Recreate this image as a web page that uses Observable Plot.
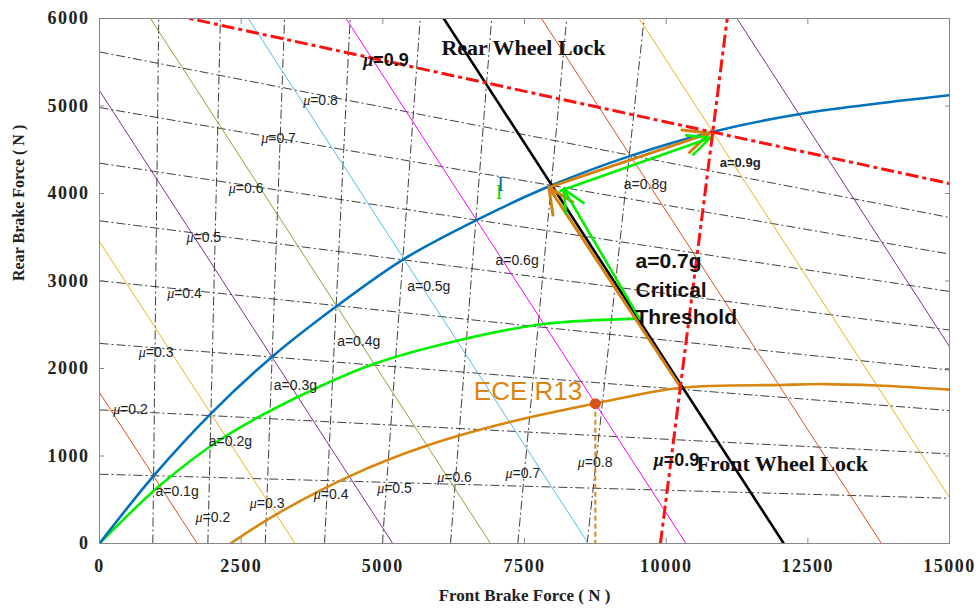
<!DOCTYPE html>
<html>
<head>
<meta charset="utf-8">
<script src="https://cdn.jsdelivr.net/npm/d3@7"></script>
<script src="https://cdn.jsdelivr.net/npm/@observablehq/plot@0.6"></script>
<style>
  body { margin: 0; background: #fff; }
  #chart svg { display: block; }
  #chart g[aria-label="x-axis tick label"] text,
  #chart g[aria-label="y-axis tick label"] text {
    font-family: "Liberation Serif", "Times New Roman", serif;
    font-weight: bold;
    font-size: 18px;
    letter-spacing: 1.5px;
    fill: #222;
  }
</style>
</head>
<body>
<div id="chart"></div>
<script>
// Axes
const xDomain = [0, 15000];
const yDomain = [0, 6000];
const xTicks = [0, 2500, 5000, 7500, 10000, 12500, 15000];
const yTicks = [0, 1000, 2000, 3000, 4000, 5000, 6000];

// Ideal brake force distribution curve (I curve)
const idealFront = [0, 958, 1971, 3047, 4194, 5370, 6652, 7958, 9370, 10812, 12340, 15000];
const idealRear  = [0, 776, 1488, 2135, 2717, 3251, 3696, 4088, 4430, 4704, 4906, 5123];

// Actual (green) distribution curve
const actualFront = [0, 1070, 2194, 3487, 4840, 6311, 7840, 9530];
const actualRear  = [0, 665, 1214, 1671, 2052, 2318, 2508, 2570];

// ECE R13 limit curve
const eceFront = [2312, 3106, 4400, 5782, 7222, 8750, 10260, 12017, 12800, 13723, 15000];
const eceRear  = [0, 328, 765, 1119, 1385, 1600, 1780, 1812, 1822, 1805, 1758];

// ECE R13 marked point
const ecePointFront = 8750;
const ecePointRear = 1598;

// Constant deceleration lines: front + rear = total braking force
const decelG   = [0.1, 0.2, 0.3, 0.4, 0.5, 0.6, 0.7, 0.8, 0.9, 1.0];
const decelSum = [1725, 3450, 5175, 6900, 8625, 10350, 12075, 13800, 15525, 17250];
const decelColors = ["#D95319", "#EDB120", "#7E2F8E", "#77AC30", "#4DBEEE", "#FF00FF", "#000000", "#D95319", "#EDB120", "#7E2F8E"];

// Wheel lock lines for each adhesion coefficient μ
const mu = [0.1, 0.2, 0.3, 0.4, 0.5, 0.6, 0.7, 0.8, 0.9];
// front lock lines: front force where the line meets rear = 0 and rear = 6000
const frontLockAtRear0    = [941, 1912, 2925, 3972, 4991, 6194, 7382, 8606, 9899];
const frontLockAtRear6000 = [1045, 2133, 3266, 4423, 5660, 6921, 8245, 9611, 11077];
// rear lock lines: rear force where the line meets front = 0 and front = 15000
const rearLockAtFront0     = [792, 1527, 2287, 3003, 3688, 4347, 4982, 5618, 6224];
const rearLockAtFront15000 = [517, 1024, 1519, 1983, 2440, 2881, 3308, 3726, 4114];

// Braking paths (arrows)
const orangePathFront = [10260, 7930, 10770];
const orangePathRear  = [1780, 4070, 4690];
const greenArrowFrom = [[9530, 2570], [8135, 4031]];
const greenArrowTo   = [[8190, 4050], [10782, 4638]];

// Deceleration labels
const decelLabels     = ["a=0.1g", "a=0.2g", "a=0.3g", "a=0.4g", "a=0.5g", "a=0.6g", "a=0.8g"];
const decelLabelFront = [988, 1929, 3076, 4194, 5430, 6988, 9252];
const decelLabelRear  = [597, 1168, 1804, 2306, 2938, 3239, 4107];

// μ labels on rear lock lines (left) and front lock lines (bottom)
const muRearLabels     = ["μ=0.2", "μ=0.3", "μ=0.4", "μ=0.5", "μ=0.6", "μ=0.7", "μ=0.8"];
const muRearLabelFront = [241, 694, 1194, 1535, 2282, 2853, 3594];
const muRearLabelRear  = [1527, 2184, 2858, 3497, 4061, 4632, 5066];
const muFrontLabels     = ["μ=0.2", "μ=0.3", "μ=0.4", "μ=0.5", "μ=0.6", "μ=0.7", "μ=0.8"];
const muFrontLabelFront = [1694, 2653, 3782, 4900, 5959, 7165, 8441];
const muFrontLabelRear  = [300, 460, 559, 625, 750, 796, 928];

const toPoints = (xs, ys) => xs.map((x, i) => ({x, y: ys[i]}));
const idealPts = toPoints(idealFront, idealRear);
const actualPts = toPoints(actualFront, actualRear);
const ecePts = toPoints(eceFront, eceRear);

const gridMu = mu.slice(0, 8).map((m, i) => i);
const redMu = [8];
const decelIdx = decelG.map((g, i) => i);
const lightDecel = decelIdx.filter(i => decelG[i] !== 0.7);
const critical = decelIdx.filter(i => decelG[i] === 0.7);

const sans = '"Liberation Sans", Arial, sans-serif';
const serif = '"Liberation Serif", "Times New Roman", serif';
const dashDot = "9,3,2,3";
const redDash = "13,4,4,4";

const chart = Plot.plot({
  width: 978,
  height: 611,
  marginLeft: 99,
  marginRight: 29,
  marginTop: 18,
  marginBottom: 68,
  x: {domain: xDomain},
  y: {domain: yDomain},
  style: {fontFamily: sans, fontSize: "14px", color: "#222", background: "#fff"},
  marks: [
    // μ lock lines (thin dash-dot)
    Plot.link(gridMu, {
      x1: i => frontLockAtRear0[i], y1: () => yDomain[0],
      x2: i => frontLockAtRear6000[i], y2: () => yDomain[1],
      stroke: "#2a2a2a", strokeWidth: 0.9, strokeDasharray: dashDot, clip: true
    }),
    Plot.link(gridMu, {
      x1: () => xDomain[0], y1: i => rearLockAtFront0[i],
      x2: () => xDomain[1], y2: i => rearLockAtFront15000[i],
      stroke: "#2a2a2a", strokeWidth: 0.9, strokeDasharray: dashDot, clip: true
    }),
    // constant deceleration lines
    Plot.link(lightDecel, {
      x1: () => 0, y1: i => decelSum[i],
      x2: i => decelSum[i], y2: () => 0,
      stroke: i => decelColors[i], strokeWidth: 1, clip: true
    }),
    // curves
    Plot.line(ecePts, {x: "x", y: "y", stroke: "#D8860F", strokeWidth: 2.6, curve: "catmull-rom", clip: true}),
    Plot.line(actualPts, {x: "x", y: "y", stroke: "#00F000", strokeWidth: 2.6, curve: "catmull-rom", clip: true}),
    Plot.line(idealPts, {x: "x", y: "y", stroke: "#0072BD", strokeWidth: 2.6, curve: "catmull-rom", clip: true}),
    // ECE point drop line
    Plot.link([0], {
      x1: () => ecePointFront, y1: () => ecePointRear,
      x2: () => ecePointFront, y2: () => 0,
      stroke: "#DD8510", strokeWidth: 2, strokeDasharray: "5,3"
    }),
    // critical 0.7g line
    Plot.link(critical, {
      x1: () => 0, y1: i => decelSum[i],
      x2: i => decelSum[i], y2: () => 0,
      stroke: "#000", strokeWidth: 2.6, clip: true
    }),
    // braking path arrows
    Plot.arrow([0, 1], {
      x1: i => orangePathFront[i], y1: i => orangePathRear[i],
      x2: i => orangePathFront[i + 1], y2: i => orangePathRear[i + 1],
      stroke: "#D4800A", strokeWidth: 3, headLength: 14, headAngle: 50
    }),
    Plot.arrow([0, 1], {
      x1: i => greenArrowFrom[i][0], y1: i => greenArrowFrom[i][1],
      x2: i => greenArrowTo[i][0], y2: i => greenArrowTo[i][1],
      stroke: "#00F000", strokeWidth: 2.6, headLength: 14, headAngle: 50
    }),
    // μ = 0.9 lock lines
    Plot.link(redMu, {
      x1: i => frontLockAtRear0[i], y1: () => yDomain[0],
      x2: i => frontLockAtRear6000[i], y2: () => yDomain[1],
      stroke: "#FF1010", strokeWidth: 3, strokeDasharray: redDash, clip: true
    }),
    Plot.link(redMu, {
      x1: () => xDomain[0], y1: i => rearLockAtFront0[i],
      x2: () => xDomain[1], y2: i => rearLockAtFront15000[i],
      stroke: "#FF1010", strokeWidth: 3, strokeDasharray: redDash, clip: true
    }),
    // ECE point
    Plot.dot([0], {x: () => ecePointFront, y: () => ecePointRear, r: 5.5, fill: "#D5561A", stroke: "none"}),

    // labels
    Plot.text(decelLabels, {x: (d, i) => decelLabelFront[i], y: (d, i) => decelLabelRear[i], text: d => d, textAnchor: "start", fontSize: 14, fill: "#222"}),
    Plot.text(["a=0.9g"], {x: () => 10946, y: () => 4354, text: d => d, textAnchor: "start", fontSize: 13, fontWeight: "bold", fill: "#222"}),
    Plot.text(muRearLabels, {x: (d, i) => muRearLabelFront[i], y: (d, i) => muRearLabelRear[i], text: d => d, textAnchor: "start", fontSize: 14, fill: "#222"}),
    Plot.text(muFrontLabels, {x: (d, i) => muFrontLabelFront[i], y: (d, i) => muFrontLabelRear[i], text: d => d, textAnchor: "start", fontSize: 14, fill: "#222"}),
    Plot.text(["μ=0.9", "μ=0.9"], {x: (d, i) => [4653, 9782][i], y: (d, i) => [5523, 948][i], text: d => d, textAnchor: "start", fontSize: 18, fontWeight: "bold", fill: "#111"}),
    Plot.text(["Rear Wheel Lock"], {x: () => 7482, y: () => 5663, text: d => d, fontFamily: serif, fontWeight: "bold", fontSize: 22, fill: "#111"}),
    Plot.text(["Front Wheel Lock"], {x: () => 12047, y: () => 910, text: d => d, fontFamily: serif, fontWeight: "bold", fontSize: 22, fill: "#111"}),
    Plot.text(["a=0.7g", "Critical", "Threshold"], {x: () => 9459, y: (d, i) => [3223, 2889, 2584][i], text: d => d, textAnchor: "start", fontSize: 21, fontWeight: "bold", fill: "#111"}),
    Plot.text(["ECE R13"], {x: () => 7562, y: () => 1739, text: d => d, fontSize: 26, fill: "#D8860F"}),
    // "I" curve tag: green glyph sits just under the blue one
    Plot.text(["I"], {x: () => 7050, y: () => 4010, text: d => d, fontFamily: serif, fontSize: 20, fill: "#00E000"}),
    Plot.text(["I"], {x: () => 7076, y: () => 4099, text: d => d, fontFamily: serif, fontSize: 20, fill: "#0072BD"}),

    // axis titles
    Plot.text(["Front Brake Force ( N )"], {frameAnchor: "bottom", dy: 57, text: d => d, fontFamily: serif, fontWeight: "bold", fontSize: 17, fill: "#222"}),
    Plot.text(["Rear Brake Force ( N )"], {frameAnchor: "left", dx: -81, rotate: -90, text: d => d, fontFamily: serif, fontWeight: "bold", fontSize: 16, fill: "#222"}),

    // frame and ticks
    Plot.frame({stroke: "#888", strokeWidth: 1}),
    Plot.axisX({ticks: xTicks, tickFormat: "d", tickSize: -5, tickPadding: 21, label: null, stroke: "#888"}),
    Plot.axisX({anchor: "top", ticks: xTicks, tickFormat: () => "", tickSize: -5, label: null, stroke: "#888"}),
    Plot.axisY({ticks: yTicks, tickFormat: "d", tickSize: -5, tickPadding: 15, label: null, stroke: "#888"}),
    Plot.axisY({anchor: "right", ticks: yTicks, tickFormat: () => "", tickSize: -5, label: null, stroke: "#888"})
  ]
});

// μ symbol set in italic serif, as in the tex-style labels
const ns = "http://www.w3.org/2000/svg";
chart.querySelectorAll("text").forEach(t => {
  const s = t.textContent;
  if (s.startsWith("μ") && t.children.length === 0) {
    t.textContent = "";
    const m = document.createElementNS(ns, "tspan");
    m.setAttribute("font-family", serif);
    m.setAttribute("font-style", "italic");
    m.textContent = "μ";
    const rest = document.createElementNS(ns, "tspan");
    rest.textContent = s.slice(1);
    t.append(m, rest);
  }
});

document.getElementById("chart").append(chart);
</script>
</body>
</html>
